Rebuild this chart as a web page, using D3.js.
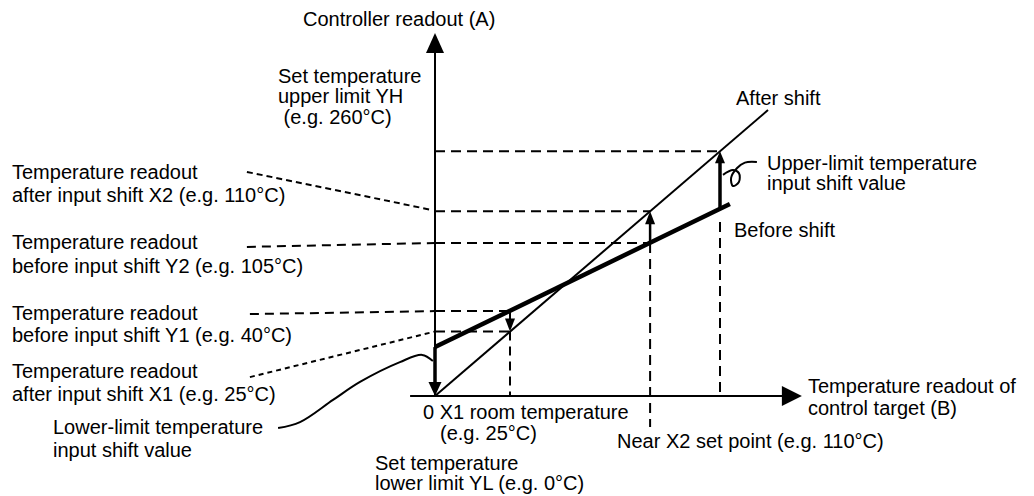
<!DOCTYPE html>
<html><head><meta charset="utf-8">
<script src="https://cdn.jsdelivr.net/npm/d3@7"></script>
<style>
body{margin:0;background:#fff}
svg{display:block}
text{font-family:"Liberation Sans",Arial,Helvetica,sans-serif;font-size:20px;fill:#000}
</style>
</head><body>
<svg id="c" width="1034" height="496"></svg>
<script>
// ---- schematic data (diagram units, not to scale) ----
const axisXExtent = [-8.3, 122.3];
const axisYExtent = [0, 121];
const xKeys = ["X1", "X2", "XH"];
const xVals = [25, 71.7, 95];
const readoutKeys = ["X1after", "Y1", "Y2", "X2after", "YH", "lowerBefore"];
const readoutVals = [21.5, 28.3, 51, 61.6, 81.6, 16.3];
const afterShiftX = [0, 111];
const afterShiftY = [0, 95.3];
const beforeShiftX = [0, 98.3];
const beforeShiftY = [16.3, 64];
// leader lines (label -> axis)
const leaderX2afterX = [-62.7, -1], leaderX2afterY = [74.7, 62];
const leaderY2X = [-62.7, 0], leaderY2Y = [49.7, 51];
const leaderY1X = [-61.7, 0], leaderY1Y = [27.3, 28.3];
const leaderX1afterX = [-61.7, 0], leaderX1afterY = [6.3, 21.5];
const lowerCurveX = [-52.3, -45, -34, -25, -11.7, -4.3, -0.7];
const lowerCurveY = [-10.7, -8.7, -1.3, 4.7, 11.3, 13.7, 11.7];
const upperCurlX = [107.3, 103.3, 100.7, 98.7, 99.3, 101.3, 101.3, 99.3, 96];
const upperCurlY = [78, 77.8, 76, 72.7, 70, 71.3, 74.3, 75.3, 73.7];

// ---- scales ----
const x = d3.scaleLinear().domain([0, 100]).range([435, 735]);
const y = d3.scaleLinear().domain([0, 100]).range([396, 96]);
const R = k => readoutVals[readoutKeys.indexOf(k)];
const X = k => xVals[xKeys.indexOf(k)];
const beforeAt = u => beforeShiftY[0] + (beforeShiftY[1]-beforeShiftY[0])*(u-beforeShiftX[0])/(beforeShiftX[1]-beforeShiftX[0]);

const svg = d3.select("#c");
const g = svg.append("g");
const line = d3.line().x(d => x(d[0])).y(d => y(d[1]));
const smooth = d3.line().curve(d3.curveCatmullRom).x(d => x(d[0])).y(d => y(d[1]));
const zip = (a, b) => a.map((v, i) => [v, b[i]]);

function seg(pts, w, dash) {
  g.append("path").attr("d", line(pts)).attr("fill", "none").attr("stroke", "#000")
    .attr("stroke-width", w).attr("stroke-dasharray", dash || null);
}
function arrowV(u, v0, v1, w, hl, hw) {
  const px = x(u), p0 = y(v0), p1 = y(v1);
  const dir = p1 > p0 ? 1 : -1;
  g.append("line").attr("x1", px).attr("x2", px).attr("y1", p0).attr("y2", p1 - dir*hl*0.6)
    .attr("stroke", "#000").attr("stroke-width", w);
  g.append("path").attr("d", `M${px},${p1}L${px-hw},${p1-dir*hl}L${px+hw},${p1-dir*hl}Z`).attr("fill", "#000");
}

// dashed reference lines
const D = "10,6";
seg([[0, R("YH")], [X("XH"), R("YH")]], 2, D);
seg([[0, R("X2after")], [X("X2"), R("X2after")]], 2, D);
seg([[0, R("Y2")], [X("X2"), R("Y2")]], 2, D);
seg([[0, R("Y1")], [X("X1"), R("Y1")]], 2, D);
seg([[0, R("X1after")], [X("X1"), R("X1after")]], 2, D);
seg([[X("X1"), R("X1after")], [X("X1"), 0]], 2, "9,6");
seg([[X("X2"), R("Y2")], [X("X2"), -10.3]], 2, "10,6");
seg([[X("XH"), 58], [X("XH"), 0]], 2, "10,6");

// leaders
seg(zip(leaderX2afterX, leaderX2afterY), 2, "6,4");
seg(zip(leaderY2X, leaderY2Y), 2, "9,6");
seg(zip(leaderY1X, leaderY1Y), 2, "9,6");
seg(zip(leaderX1afterX, leaderX1afterY), 2, "5,4");
g.append("path").attr("d", smooth(zip(lowerCurveX, lowerCurveY)))
  .attr("fill", "none").attr("stroke", "#000").attr("stroke-width", 2);
g.append("path").attr("d", smooth(zip(upperCurlX, upperCurlY)))
  .attr("fill", "none").attr("stroke", "#000").attr("stroke-width", 2);

// characteristic lines
seg(zip(afterShiftX, afterShiftY), 2);
seg(zip(beforeShiftX, beforeShiftY), 4.5);

// axes
g.append("line").attr("x1", x(axisXExtent[0])).attr("x2", x(axisXExtent[1]) - 15).attr("y1", y(0)).attr("y2", y(0))
  .attr("stroke", "#000").attr("stroke-width", 2);
g.append("path").attr("d", `M${x(axisXExtent[1])},${y(0)}L${x(axisXExtent[1])-20},${y(0)-10}L${x(axisXExtent[1])-20},${y(0)+10}Z`).attr("fill", "#000");
g.append("line").attr("x1", x(0)).attr("x2", x(0)).attr("y1", y(0)).attr("y2", y(axisYExtent[1]) + 15)
  .attr("stroke", "#000").attr("stroke-width", 2);
g.append("path").attr("d", `M${x(0)},${y(axisYExtent[1])}L${x(0)-9},${y(axisYExtent[1])+20}L${x(0)+9},${y(axisYExtent[1])+20}Z`).attr("fill", "#000");

// shift arrows
arrowV(0, R("lowerBefore"), 0, 3.5, 14, 6.5);
arrowV(X("X1"), R("Y1"), R("X1after"), 2, 13, 5);
arrowV(X("X2"), beforeAt(X("X2")), R("X2after"), 2.5, 13, 5);
arrowV(X("XH"), beforeAt(X("XH")), R("YH"), 3.5, 12, 5);

// labels (layout)
const labels = [
  [303, 26, "Controller readout (A)"],
  [278, 83, "Set temperature"],
  [278, 103, "upper limit YH"],
  [278, 124, " (e.g. 260\u00B0C)"],
  [12, 179, "Temperature readout"],
  [12, 202, "after input shift X2 (e.g. 110\u00B0C)"],
  [12, 249, "Temperature readout"],
  [12, 273, "before input shift Y2 (e.g. 105\u00B0C)"],
  [12, 320, "Temperature readout"],
  [12, 342, "before input shift Y1 (e.g. 40\u00B0C)"],
  [12, 378, "Temperature readout"],
  [12, 401, "after input shift X1 (e.g. 25\u00B0C)"],
  [53, 434, "Lower-limit temperature"],
  [53, 457, "input shift value"],
  [423, 419, "0 X1 room temperature"],
  [440, 440, "(e.g. 25\u00B0C)"],
  [375, 470, "Set temperature"],
  [375, 490, "lower limit YL (e.g. 0\u00B0C)"],
  [617, 448, "Near X2 set point (e.g. 110\u00B0C)"],
  [808, 393, "Temperature readout of"],
  [808, 415, "control target (B)"],
  [736, 105, "After shift"],
  [767, 170, "Upper-limit temperature"],
  [767, 190, "input shift value"],
  [734, 237, "Before shift"]
];
svg.append("g").selectAll("text").data(labels).join("text")
  .attr("x", d => d[0]).attr("y", d => d[1]).attr("xml:space", "preserve").style("white-space", "pre").text(d => d[2]);
</script>
</body></html>
